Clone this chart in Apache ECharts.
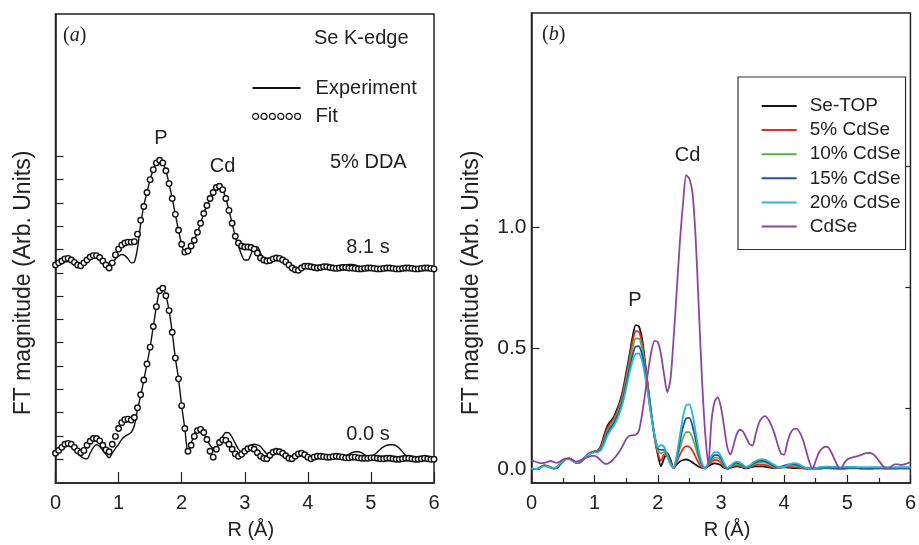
<!DOCTYPE html>
<html>
<head>
<meta charset="utf-8">
<script src="https://cdn.jsdelivr.net/npm/echarts@6/dist/echarts.min.js"></script>
<style>
  html, body { margin: 0; padding: 0; background: #fff; }
  #chart { width: 919px; height: 545px; }
</style>
</head>
<body>
<div id="chart"></div>
<script>
// R grid (Å), 0.05 step
const R = Array.from({ length: 121 }, (_, i) => +(i * 0.05).toFixed(2));
const xTicks = [0, 1, 2, 3, 4, 5, 6];

// (a) 5% DDA, 8.1 s (offset trace)
const exp81 = [
  8.30, 8.34, 8.40, 8.47, 8.49, 8.45, 8.38, 8.30, 8.23, 8.34,
  8.51, 8.64, 8.70, 8.70, 8.62, 8.47, 8.30, 8.19, 8.38, 8.60,
  8.72, 8.79, 8.74, 8.60, 8.43, 8.47, 9.06, 10.09, 10.89, 11.45,
  12.00, 12.43, 12.72, 12.83, 12.72, 12.38, 11.83, 11.19, 10.51, 9.83,
  9.23, 8.89, 8.94, 9.15, 9.40, 9.74, 10.13, 10.55, 10.89, 11.19,
  11.45, 11.66, 11.72, 11.57, 11.19, 10.68, 10.13, 9.57, 9.15, 8.77,
  8.55, 8.55, 8.81, 9.11, 9.11, 8.85, 8.55, 8.47, 8.53, 8.60,
  8.64, 8.62, 8.55, 8.47, 8.34, 8.21, 8.13, 8.11, 8.21, 8.28,
  8.28, 8.26, 8.23, 8.21, 8.23, 8.26, 8.26, 8.23, 8.21, 8.23,
  8.28, 8.32, 8.34, 8.36, 8.36, 8.34, 8.30, 8.26, 8.21, 8.21,
  8.21, 8.19, 8.17, 8.17, 8.19, 8.21, 8.21, 8.19, 8.17, 8.17,
  8.19, 8.21, 8.21, 8.19, 8.17, 8.17, 8.19, 8.21, 8.21, 8.19,
  8.17
];
const fit81 = [
  8.34, 8.43, 8.51, 8.60, 8.62, 8.55, 8.45, 8.34, 8.30, 8.43,
  8.55, 8.68, 8.74, 8.74, 8.66, 8.51, 8.34, 8.21, 8.43, 8.77,
  9.02, 9.19, 9.28, 9.32, 9.32, 9.34, 9.66, 10.26, 10.85, 11.45,
  12.00, 12.43, 12.72, 12.83, 12.72, 12.38, 11.83, 11.19, 10.51, 9.83,
  9.23, 8.89, 8.94, 9.15, 9.40, 9.74, 10.13, 10.55, 10.89, 11.19,
  11.45, 11.66, 11.72, 11.57, 11.19, 10.68, 10.13, 9.57, 9.28, 9.15,
  9.11, 9.11, 9.09, 9.02, 8.85, 8.64, 8.55, 8.51, 8.53, 8.60,
  8.64, 8.62, 8.55, 8.47, 8.34, 8.21, 8.13, 8.11, 8.21, 8.28,
  8.28, 8.26, 8.23, 8.21, 8.23, 8.26, 8.26, 8.23, 8.21, 8.19,
  8.21, 8.23, 8.23, 8.21, 8.21, 8.19, 8.17, 8.17, 8.19, 8.21,
  8.21, 8.19, 8.17, 8.17, 8.19, 8.21, 8.21, 8.19, 8.17, 8.17,
  8.19, 8.21, 8.21, 8.19, 8.17, 8.17, 8.19, 8.21, 8.21, 8.19,
  8.17
];

// (a) 0.0 s
const exp00 = [
  0.21, 0.34, 0.47, 0.57, 0.60, 0.55, 0.43, 0.26, 0.13, 0.04,
  0.02, 0.26, 0.51, 0.62, 0.55, 0.38, 0.21, 0.06, 0.26, 0.47,
  0.64, 0.85, 0.98, 1.06, 1.15, 1.45, 2.13, 2.72, 3.40, 4.09,
  4.81, 5.70, 6.55, 7.23, 7.34, 7.02, 6.38, 5.45, 4.34, 3.45,
  2.30, 1.32, 0.34, 0.68, 1.06, 1.28, 1.28, 1.11, 0.85, 0.60,
  0.47, 0.51, 0.72, 0.98, 1.15, 1.13, 0.94, 0.68, 0.43, 0.32,
  0.38, 0.51, 0.60, 0.64, 0.62, 0.55, 0.38, 0.23, 0.19, 0.21,
  0.30, 0.34, 0.32, 0.23, 0.13, 0.06, 0.11, 0.19, 0.23, 0.19,
  0.09, 0.04, 0.09, 0.11, 0.11, 0.09, 0.09, 0.11, 0.13, 0.13,
  0.11, 0.11, 0.15, 0.21, 0.28, 0.32, 0.32, 0.28, 0.19, 0.13,
  0.13, 0.19, 0.30, 0.43, 0.53, 0.60, 0.62, 0.62, 0.57, 0.47,
  0.32, 0.17, 0.06, 0.02, 0.02, 0.04, 0.06, 0.06, 0.04, 0.02,
  0.04
];
const fit00 = [
  0.26, 0.38, 0.51, 0.64, 0.68, 0.64, 0.51, 0.36, 0.28, 0.38,
  0.60, 0.77, 0.89, 0.89, 0.79, 0.60, 0.40, 0.32, 0.64, 0.98,
  1.32, 1.57, 1.70, 1.72, 1.68, 1.79, 2.21, 2.77, 3.40, 4.09,
  4.81, 5.70, 6.55, 7.23, 7.34, 7.02, 6.38, 5.45, 4.34, 3.45,
  2.30, 1.32, 0.34, 0.60, 0.98, 1.23, 1.28, 1.15, 0.85, 0.34,
  0.09, 0.43, 0.72, 0.83, 0.81, 0.64, 0.43, 0.23, 0.13, 0.21,
  0.34, 0.45, 0.49, 0.43, 0.28, 0.13, 0.04, 0.02, 0.17, 0.30,
  0.34, 0.32, 0.26, 0.15, 0.04, 0.02, 0.13, 0.23, 0.26, 0.19,
  0.09, 0.02, 0.09, 0.13, 0.13, 0.11, 0.09, 0.09, 0.11, 0.13,
  0.11, 0.09, 0.06, 0.06, 0.09, 0.09, 0.06, 0.04, 0.04, 0.04,
  0.06, 0.06, 0.04, 0.02, 0.02, 0.04, 0.04, 0.02, 0.00, 0.00,
  0.02, 0.04, 0.04, 0.02, 0.00, 0.00, 0.02, 0.04, 0.02, 0.00,
  0.00
];

// (b)
const seTop = [
  0.005, 0.000, 0.000, 0.010, 0.016, 0.014, 0.008, 0.003, 0.004, 0.018,
  0.032, 0.042, 0.045, 0.038, 0.028, 0.026, 0.035, 0.048, 0.062, 0.070,
  0.074, 0.078, 0.098, 0.140, 0.178, 0.198, 0.215, 0.245, 0.280, 0.330,
  0.400, 0.470, 0.545, 0.595, 0.590, 0.540, 0.440, 0.330, 0.225, 0.130,
  0.060, 0.012, 0.045, 0.066, 0.040, 0.005, 0.020, 0.032, 0.038, 0.040,
  0.036, 0.028, 0.018, 0.010, 0.006, 0.006, 0.012, 0.020, 0.024, 0.022,
  0.016, 0.006, 0.002, 0.006, 0.010, 0.012, 0.010, 0.006, 0.004, 0.006,
  0.010, 0.012, 0.012, 0.012, 0.010, 0.008, 0.006, 0.005, 0.006, 0.008,
  0.008, 0.007, 0.006, 0.005, 0.005, 0.005, 0.004, 0.004, 0.003, 0.003,
  0.003, 0.004, 0.004, 0.005, 0.005, 0.004, 0.004, 0.003, 0.003, 0.003,
  0.004, 0.005, 0.005, 0.005, 0.004, 0.004, 0.003, 0.003, 0.003, 0.004,
  0.004, 0.004, 0.004, 0.004, 0.004, 0.004, 0.004, 0.004, 0.004, 0.004,
  0.004
];
const cdse5 = [
  0.005, 0.000, 0.002, 0.010, 0.016, 0.014, 0.008, 0.004, 0.006, 0.020,
  0.034, 0.043, 0.045, 0.037, 0.027, 0.026, 0.036, 0.050, 0.063, 0.070,
  0.073, 0.076, 0.093, 0.130, 0.168, 0.190, 0.207, 0.235, 0.270, 0.318,
  0.385, 0.455, 0.525, 0.570, 0.568, 0.520, 0.430, 0.325, 0.222, 0.132,
  0.068, 0.035, 0.060, 0.058, 0.030, 0.004, 0.030, 0.060, 0.084, 0.095,
  0.092, 0.075, 0.050, 0.025, 0.008, 0.004, 0.016, 0.030, 0.038, 0.036,
  0.026, 0.010, 0.002, 0.008, 0.014, 0.016, 0.014, 0.008, 0.005, 0.008,
  0.014, 0.018, 0.020, 0.020, 0.018, 0.014, 0.010, 0.006, 0.005, 0.007,
  0.009, 0.010, 0.010, 0.009, 0.008, 0.006, 0.004, 0.002, 0.001, 0.000,
  0.001, 0.002, 0.003, 0.004, 0.004, 0.004, 0.003, 0.003, 0.003, 0.003,
  0.004, 0.004, 0.004, 0.004, 0.003, 0.003, 0.003, 0.003, 0.004, 0.004,
  0.004, 0.004, 0.003, 0.003, 0.003, 0.003, 0.004, 0.004, 0.004, 0.004,
  0.004
];
const cdse10 = [
  0.004, 0.000, 0.002, 0.009, 0.015, 0.013, 0.008, 0.004, 0.007, 0.021,
  0.035, 0.043, 0.044, 0.036, 0.027, 0.027, 0.037, 0.050, 0.062, 0.069,
  0.072, 0.074, 0.088, 0.122, 0.158, 0.180, 0.198, 0.225, 0.260, 0.305,
  0.370, 0.437, 0.500, 0.540, 0.540, 0.500, 0.418, 0.318, 0.220, 0.135,
  0.076, 0.066, 0.070, 0.050, 0.022, 0.005, 0.040, 0.088, 0.130, 0.153,
  0.153, 0.128, 0.088, 0.045, 0.014, 0.003, 0.020, 0.038, 0.048, 0.048,
  0.036, 0.016, 0.003, 0.010, 0.018, 0.021, 0.018, 0.011, 0.006, 0.010,
  0.018, 0.024, 0.028, 0.029, 0.027, 0.022, 0.015, 0.009, 0.006, 0.008,
  0.012, 0.015, 0.016, 0.016, 0.014, 0.010, 0.006, 0.003, 0.001, 0.000,
  0.002, 0.004, 0.005, 0.005, 0.005, 0.005, 0.004, 0.004, 0.004, 0.004,
  0.005, 0.005, 0.005, 0.005, 0.004, 0.004, 0.004, 0.004, 0.005, 0.005,
  0.005, 0.005, 0.004, 0.004, 0.004, 0.004, 0.005, 0.005, 0.005, 0.005,
  0.005
];
const cdse15 = [
  0.004, 0.000, 0.002, 0.009, 0.014, 0.012, 0.007, 0.004, 0.008, 0.022,
  0.036, 0.043, 0.043, 0.035, 0.027, 0.028, 0.038, 0.050, 0.061, 0.068,
  0.071, 0.072, 0.083, 0.114, 0.148, 0.170, 0.188, 0.214, 0.248, 0.292,
  0.352, 0.415, 0.472, 0.507, 0.508, 0.474, 0.400, 0.308, 0.216, 0.138,
  0.085, 0.080, 0.080, 0.055, 0.022, 0.006, 0.050, 0.115, 0.175, 0.210,
  0.212, 0.178, 0.122, 0.062, 0.020, 0.003, 0.024, 0.046, 0.058, 0.058,
  0.045, 0.020, 0.004, 0.012, 0.022, 0.026, 0.022, 0.014, 0.008, 0.012,
  0.022, 0.029, 0.034, 0.035, 0.033, 0.027, 0.019, 0.011, 0.007, 0.010,
  0.015, 0.019, 0.021, 0.021, 0.019, 0.014, 0.008, 0.004, 0.001, 0.000,
  0.003, 0.006, 0.007, 0.007, 0.007, 0.006, 0.006, 0.005, 0.005, 0.005,
  0.006, 0.006, 0.006, 0.006, 0.005, 0.005, 0.005, 0.005, 0.006, 0.006,
  0.006, 0.006, 0.005, 0.005, 0.005, 0.005, 0.006, 0.006, 0.006, 0.006,
  0.006
];
const cdse20 = [
  0.003, 0.000, 0.002, 0.008, 0.013, 0.011, 0.007, 0.005, 0.009, 0.023,
  0.036, 0.042, 0.042, 0.034, 0.027, 0.029, 0.039, 0.050, 0.060, 0.066,
  0.069, 0.070, 0.078, 0.105, 0.138, 0.160, 0.178, 0.203, 0.236, 0.278,
  0.335, 0.395, 0.446, 0.477, 0.478, 0.448, 0.382, 0.298, 0.212, 0.140,
  0.090, 0.100, 0.092, 0.058, 0.022, 0.006, 0.060, 0.140, 0.218, 0.265,
  0.268, 0.225, 0.152, 0.076, 0.024, 0.003, 0.028, 0.056, 0.070, 0.070,
  0.054, 0.026, 0.006, 0.014, 0.026, 0.031, 0.027, 0.018, 0.010, 0.015,
  0.026, 0.034, 0.040, 0.042, 0.040, 0.033, 0.025, 0.017, 0.010, 0.008,
  0.010, 0.016, 0.022, 0.025, 0.024, 0.019, 0.011, 0.005, 0.002, 0.000,
  0.004, 0.008, 0.010, 0.011, 0.011, 0.010, 0.010, 0.009, 0.009, 0.009,
  0.010, 0.010, 0.010, 0.009, 0.009, 0.008, 0.008, 0.008, 0.009, 0.009,
  0.009, 0.008, 0.008, 0.008, 0.008, 0.008, 0.009, 0.009, 0.009, 0.009,
  0.009
];
const cdseBulk = [
  0.036, 0.032, 0.028, 0.025, 0.026, 0.030, 0.034, 0.030, 0.026, 0.032,
  0.040, 0.045, 0.044, 0.037, 0.031, 0.033, 0.040, 0.046, 0.051, 0.055,
  0.055, 0.048, 0.035, 0.024, 0.022, 0.030, 0.042, 0.058, 0.075, 0.100,
  0.125, 0.138, 0.140, 0.142, 0.158, 0.225, 0.315, 0.410, 0.490, 0.530,
  0.525, 0.475, 0.390, 0.318, 0.370, 0.540, 0.740, 0.940, 1.100, 1.215,
  1.200, 1.140, 0.950, 0.660, 0.370, 0.150, 0.020, 0.200, 0.280, 0.298,
  0.255, 0.175, 0.090, 0.060, 0.100, 0.145, 0.163, 0.155, 0.130, 0.105,
  0.098, 0.145, 0.190, 0.212, 0.219, 0.205, 0.180, 0.145, 0.100, 0.065,
  0.060, 0.110, 0.148, 0.166, 0.168, 0.150, 0.120, 0.075, 0.030, 0.002,
  0.035, 0.068, 0.085, 0.093, 0.090, 0.068, 0.040, 0.012, 0.002, 0.025,
  0.040, 0.046, 0.050, 0.053, 0.057, 0.062, 0.066, 0.067, 0.064, 0.052,
  0.035, 0.018, 0.005, 0.002, 0.012, 0.020, 0.020, 0.018, 0.020, 0.024,
  0.028
];

const bNames = ['Se-TOP', '5% CdSe', '10% CdSe', '15% CdSe', '20% CdSe', 'CdSe'];
const bData = [seTop, cdse5, cdse10, cdse15, cdse20, cdseBulk];
const bColors = ['#151515', '#ec2a2e', '#5aae46', '#2150a6', '#2cb8d2', '#8f45a0'];

const aTicks = [0, 1, 2, 3, 4, 5, 6, 7, 8, 9, 10, 11, 12, 13];
const bMajor = [0, 0.5, 1.0];
const bMinor = [0.25, 0.75, 1.25];

const FONT = 'Liberation Sans, Arial, Helvetica, sans-serif';
const SERIF = 'Liberation Serif, DejaVu Serif, serif';
const INK = '#222';

const pairs = (ys) => R.map((r, i) => [r, ys[i]]);
// legend icons: six open circles for the fit, a bar for the experiment
const sixCircles = 'path://M0,3a3,3 0 1,0 6,0a3,3 0 1,0 -6,0' +
  'M8.4,3a3,3 0 1,0 6,0a3,3 0 1,0 -6,0' +
  'M16.8,3a3,3 0 1,0 6,0a3,3 0 1,0 -6,0' +
  'M25.2,3a3,3 0 1,0 6,0a3,3 0 1,0 -6,0' +
  'M33.6,3a3,3 0 1,0 6,0a3,3 0 1,0 -6,0' +
  'M42,3a3,3 0 1,0 6,0a3,3 0 1,0 -6,0';
const thinBar = 'path://M0,0M0,2.1L48,2.1L48,3.9L0,3.9ZM48,6';

const chart = echarts.init(document.getElementById('chart'), null, { renderer: 'canvas' });

const xAxisBase = (gi, minor) => ({
  type: 'value', gridIndex: gi, min: 0, max: 6, interval: 1,
  name: 'R (Å)', nameLocation: 'middle', nameGap: 37,
  nameTextStyle: { fontFamily: FONT, fontSize: 20, color: INK, padding: [0, 0, 0, 12] },
  axisLine: { onZero: false, lineStyle: { color: INK, width: 1.5 } },
  axisTick: { inside: true, length: minor ? 8 : 11, lineStyle: { color: INK, width: 1.2 } },
  minorTick: { show: minor, splitNumber: 2, length: 5, lineStyle: { color: INK, width: 1.2 } },
  axisLabel: { fontFamily: FONT, fontSize: 20, color: INK, margin: 10, customValues: xTicks },
  splitLine: { show: false }
});

const series = [];
// panel (a)
[[exp81, fit81], [exp00, fit00]].forEach(([e, f]) => {
  series.push({
    name: 'Experiment', type: 'line', xAxisIndex: 0, yAxisIndex: 0,
    data: pairs(e), symbol: 'none', smooth: 0.3,
    lineStyle: { color: '#111', width: 1.4 }, itemStyle: { color: '#111' }, z: 2
  });
  series.push({
    name: 'Fit', type: 'scatter', xAxisIndex: 0, yAxisIndex: 0,
    data: pairs(f), symbol: 'circle', symbolSize: 5.5,
    itemStyle: { color: '#fff', borderColor: '#111', borderWidth: 1.4, opacity: 1 }, z: 3
  });
});
// panel (b)
bNames.forEach((n, k) => {
  series.push({
    name: n, type: 'line', xAxisIndex: 1, yAxisIndex: 1,
    data: pairs(bData[k]), symbol: 'none', smooth: 0.25,
    lineStyle: { color: bColors[k], width: 1.8 }, itemStyle: { color: bColors[k] }
  });
});

const txt = (x, y, text, size, align, extra) => ({
  type: 'text', x, y, silent: true,
  style: Object.assign({ text, fontFamily: FONT, fontSize: size, fill: INK,
    align: align || 'center', verticalAlign: 'middle' }, extra || {})
});
const panelTag = (x, y, letter) => txt(x, y, '({i|' + letter + '})', 20, 'left', {
  fontFamily: SERIF,
  rich: { i: { fontStyle: 'italic', fontFamily: SERIF, fontSize: 20, fill: INK } }
});
const yTitle = (x) => ({
  type: 'text', x, y: 283, rotation: Math.PI / 2, silent: true,
  style: { text: 'FT magnitude (Arb. Units)', fontFamily: FONT, fontSize: 23, fill: INK,
    align: 'center', verticalAlign: 'middle' }
});

chart.setOption({
  animation: false,
  backgroundColor: '#fff',
  grid: [
    { left: 55.5, top: 14, width: 378.5, height: 473, show: true, borderColor: INK, borderWidth: 1.5 },
    { left: 531.5, top: 13, width: 379, height: 474, show: true, borderColor: INK, borderWidth: 1.5 }
  ],
  xAxis: [xAxisBase(0, false), xAxisBase(1, true)],
  yAxis: [
    {
      type: 'value', gridIndex: 0, min: -1.02, max: 19.11,
      axisLine: { onZero: false, lineStyle: { color: INK, width: 1.5 } },
      axisTick: { inside: true, length: 8, customValues: aTicks, lineStyle: { color: INK, width: 1.2 } },
      axisLabel: { show: false }, splitLine: { show: false }
    },
    {
      type: 'value', gridIndex: 1, min: -0.057, max: 1.885,
      axisLine: { onZero: false, lineStyle: { color: INK, width: 1.5 } },
      axisTick: { inside: true, length: 8, customValues: bMajor, lineStyle: { color: INK, width: 1.2 } },
      axisLabel: { fontFamily: FONT, fontSize: 21, color: INK, margin: 5,
        customValues: bMajor, formatter: (v) => v.toFixed(1) },
      splitLine: { show: false }
    },
    {
      type: 'value', gridIndex: 1, min: -0.057, max: 1.885,
      axisLine: { show: false, onZero: false },
      axisTick: { inside: true, length: 5, customValues: bMinor, lineStyle: { color: INK, width: 1.2 } },
      axisLabel: { show: false }, splitLine: { show: false }
    }
  ],
  legend: [
    {
      orient: 'vertical', left: 252, top: 78, padding: 0, itemGap: 8.4,
      itemWidth: 48, itemHeight: 6, selectedMode: false,
      textStyle: { fontFamily: FONT, fontSize: 20, color: INK, lineHeight: 20, padding: [0, 0, 0, 10] },
      data: [
        { name: 'Experiment', icon: thinBar, itemStyle: { color: '#111', borderWidth: 0 } },
        { name: 'Fit', icon: sixCircles, itemStyle: { color: '#fff', borderColor: '#111', borderWidth: 1.2 } }
      ]
    },
    {
      orient: 'vertical', left: 738, top: 77, padding: [19, 5, 13, 23.7], itemGap: 4.1,
      itemWidth: 35, itemHeight: 2, icon: 'rect', selectedMode: false,
      borderColor: '#333', borderWidth: 1.2, backgroundColor: '#fff',
      itemStyle: { borderWidth: 0 },
      textStyle: { fontFamily: FONT, fontSize: 19, color: INK, lineHeight: 20, padding: [0, 0, 0, 8] },
      data: bNames
    }
  ],
  graphic: { elements: [
    yTitle(23.5),
    yTitle(472),
    panelTag(63, 36, 'a'),
    panelTag(542, 35, 'b'),
    txt(314, 38, 'Se K-edge', 20, 'left'),
    txt(161, 138, 'P', 20),
    txt(222.5, 166, 'Cd', 20),
    txt(330, 162.5, '5% DDA', 20, 'left'),
    txt(368, 247, '8.1 s', 20),
    txt(368, 434.5, '0.0 s', 20),
    txt(687.5, 155, 'Cd', 20),
    txt(635, 300, 'P', 20)
  ] },
  series
});
</script>
</body>
</html>
